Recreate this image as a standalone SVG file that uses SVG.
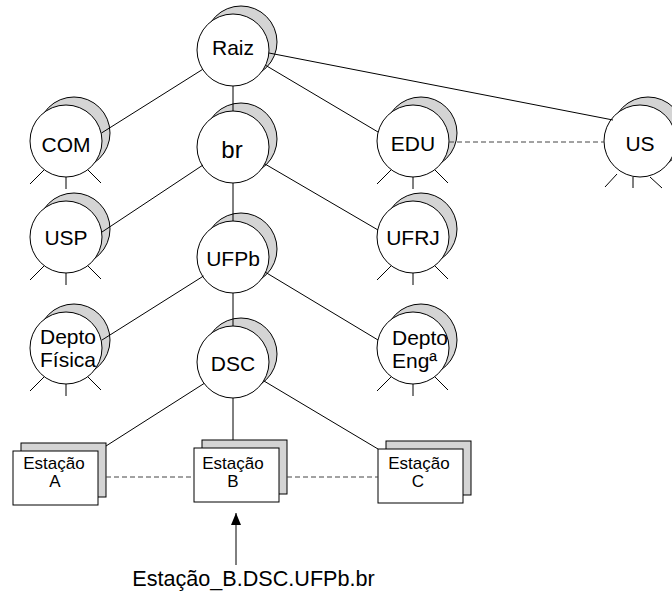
<svg xmlns="http://www.w3.org/2000/svg" xmlns:xlink="http://www.w3.org/1999/xlink" width="672" height="593" viewBox="0 0 672 593">
<style>
.back{fill:#d4d4d4;stroke:#000;stroke-width:1}
.front{fill:#fff;stroke:#000;stroke-width:1}
.ray{stroke:#000;stroke-width:1;fill:none}
.lbl{font-family:"Liberation Sans",Arial,sans-serif;font-size:21px;text-anchor:middle;fill:#000}
.sm{font-size:17px}
.edge{stroke:#000;stroke-width:1;fill:none}
.dash{stroke:#444;stroke-width:1;stroke-dasharray:5 3;fill:none}
</style>
<defs>
<g id="dom"><circle class="back" cx="8" cy="-8" r="36"/><circle class="front" cx="0" cy="0" r="36"/></g>
<path id="rays" class="ray" d="M-22 29L-36 43M0 36V48M22 29L35 42"/>
<g id="box"><rect class="back" x="8" y="-8" width="85" height="54"/><rect class="front" x="0" y="0" width="85" height="54"/></g>
<marker id="ah" markerWidth="12" markerHeight="10" refX="12" refY="5" orient="auto" markerUnits="userSpaceOnUse" viewBox="0 0 12 10"><path d="M0 0L12 5L0 10Z" fill="#000"/></marker>
</defs>

<g id="raiz"><use xlink:href="#dom" x="233" y="50"/><text class="lbl" x="233" y="55">Raiz</text></g>
<g id="com"><use xlink:href="#dom" x="66" y="141"/><use xlink:href="#rays" x="66" y="141"/><text class="lbl" x="66" y="152">COM</text></g>
<g id="br"><use xlink:href="#dom" x="233" y="147"/><text class="lbl" x="232" y="158" style="font-size:24px">br</text></g>
<g id="edu"><use xlink:href="#dom" x="413" y="141"/><use xlink:href="#rays" x="413" y="141"/><text class="lbl" x="413" y="151">EDU</text></g>
<g id="us"><use xlink:href="#dom" x="640" y="141"/><path class="ray" d="M617 174L605 187M633 177V188M650 177L662 188"/><text class="lbl" x="640" y="151">US</text></g>
<g id="usp"><use xlink:href="#dom" x="66" y="237"/><use xlink:href="#rays" x="66" y="237"/><text class="lbl" x="66" y="245">USP</text></g>
<g id="ufpb"><use xlink:href="#dom" x="233" y="257"/><text class="lbl" x="233" y="266">UFPb</text></g>
<g id="ufrj"><use xlink:href="#dom" x="413" y="237"/><use xlink:href="#rays" x="413" y="237"/><text class="lbl" x="413" y="245">UFRJ</text></g>
<g id="depto-fisica"><use xlink:href="#dom" x="66" y="348"/><use xlink:href="#rays" x="66" y="348"/><text class="lbl" x="68" y="344">Depto</text><text class="lbl" x="68" y="367">Física</text></g>
<g id="dsc"><use xlink:href="#dom" x="233" y="362"/><text class="lbl" x="233" y="371">DSC</text></g>
<g id="depto-eng"><use xlink:href="#dom" x="413" y="348"/><use xlink:href="#rays" x="413" y="348"/><text class="lbl" x="392" y="345" style="text-anchor:start">Depto</text><text class="lbl" x="392" y="368" style="text-anchor:start">Engª</text></g>

<g id="estacao-a"><use xlink:href="#box" x="13" y="451"/><text class="lbl sm" x="54" y="469">Estação</text><text class="lbl sm" x="55" y="487">A</text></g>
<g id="estacao-b"><use xlink:href="#box" x="194" y="448"/><text class="lbl sm" x="233" y="469">Estação</text><text class="lbl sm" x="233" y="487">B</text></g>
<g id="estacao-c"><use xlink:href="#box" x="378" y="449"/><text class="lbl sm" x="419" y="469">Estação</text><text class="lbl sm" x="418" y="487">C</text></g>

<g id="connectors">
<path class="edge" d="M202.6 69.4L101.5 133"/>
<path class="edge" d="M233 86V111"/>
<path class="edge" d="M265.6 65.3L378 132"/>
<path class="edge" d="M269 53L613 120"/>
<path class="edge" d="M203 165L102 232"/>
<path class="edge" d="M233 183V221"/>
<path class="edge" d="M265 164L378 230"/>
<path class="edge" d="M203.5 276L102 340"/>
<path class="edge" d="M233 293V326"/>
<path class="edge" d="M265 272L378 340"/>
<path class="edge" d="M204 383.5L106 446"/>
<path class="edge" d="M233 398V440"/>
<path class="edge" d="M264 381L378 449"/>
<path class="dash" d="M449 142H604"/>
<path class="dash" d="M106 477H194"/>
<path class="dash" d="M287 477H378"/>
<path class="edge" d="M236 565V513" marker-end="url(#ah)"/>
</g>
<text class="lbl" x="253.5" y="586" style="font-size:21.6px">Estação_B.DSC.UFPb.br</text>
</svg>
